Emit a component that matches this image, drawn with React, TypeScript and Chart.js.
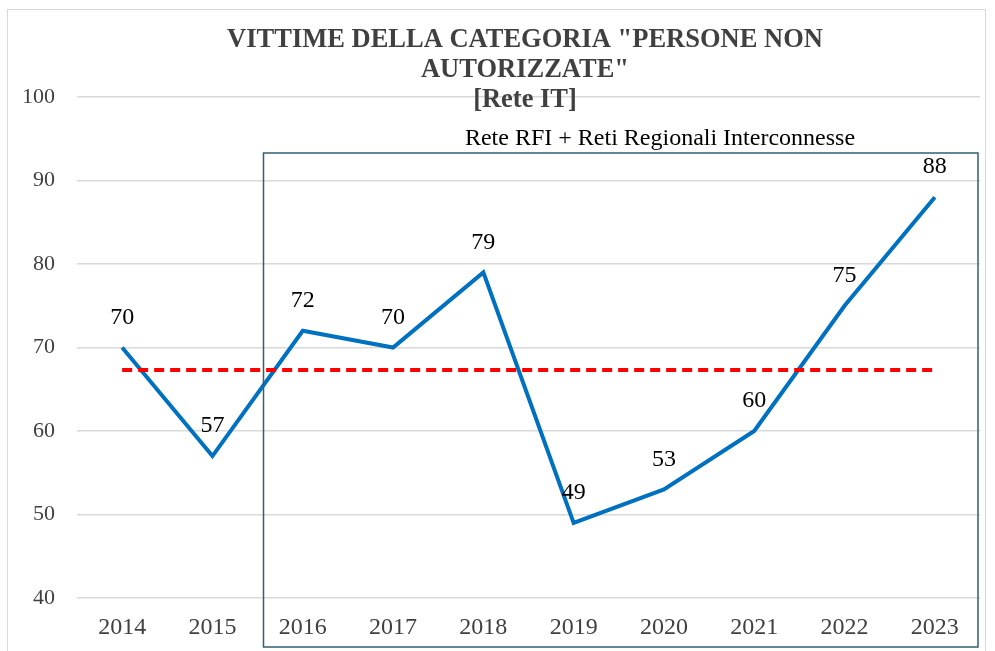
import React, { useEffect, useRef } from "react";
import { Chart, registerables } from "chart.js";

Chart.register(...registerables);

const years = ["2014", "2015", "2016", "2017", "2018", "2019", "2020", "2021", "2022", "2023"];
const victims = [70, 57, 72, 70, 79, 49, 53, 60, 75, 88];
const averageLine = [67.3, 67.3, 67.3, 67.3, 67.3, 67.3, 67.3, 67.3, 67.3, 67.3];
const titleLines = ['VITTIME DELLA CATEGORIA "PERSONE NON', 'AUTORIZZATE"', "[Rete IT]"];
const boxLabel = "Rete RFI + Reti Regionali Interconnesse";
const yMin = 40;
const yMax = 100;
const yStep = 10;

const SERIF = '"Liberation Serif", "Times New Roman", serif';

const decorPlugin = {
  id: "decor",
  beforeDraw(chart: any) {
    const ctx = chart.ctx;
    ctx.save();
    ctx.fillStyle = "#ffffff";
    ctx.fillRect(0, 0, chart.width, chart.height);
    ctx.strokeStyle = "#d9d9d9";
    ctx.lineWidth = 1;
    ctx.strokeRect(7.5, 9.5, 978, 700);
    ctx.restore();
  },
  afterDraw(chart: any) {
    const ctx = chart.ctx;
    const xs = chart.scales.x;
    const ys = chart.scales.y;
    ctx.save();
    // region box
    const left = 263.5;
    ctx.strokeStyle = "#31606f";
    ctx.lineWidth = 1.5;
    ctx.strokeRect(left, 153, 978 - left, 494);
    ctx.fillStyle = "#000000";
    ctx.font = `24px ${SERIF}`;
    ctx.textAlign = "center";
    ctx.textBaseline = "middle";
    ctx.fillText(boxLabel, 660, 139);
    // title
    ctx.fillStyle = "#404040";
    ctx.font = `bold 26.5px ${SERIF}`;
    const cx = 525;
    ctx.fillText(titleLines[0], cx, 40);
    ctx.fillText(titleLines[1], cx, 70);
    ctx.fillText(titleLines[2], cx, 100);
    // data labels
    ctx.fillStyle = "#000000";
    ctx.font = `24px ${SERIF}`;
    victims.forEach((v, i) => {
      const px = xs.getPixelForValue(i);
      const py = ys.getPixelForValue(v);
      ctx.fillText(String(v), px, py - 30);
    });
    ctx.restore();
  },
};

export default function App() {
  const ref = useRef<HTMLCanvasElement | null>(null);
  useEffect(() => {
    if (!ref.current) return;
    const chart = new Chart(ref.current, {
      type: "line",
      data: {
        labels: years,
        datasets: [
          {
            label: "Media",
            data: averageLine,
            borderColor: "#ff0000",
            borderWidth: 4,
            borderDash: [10, 6],
            pointRadius: 0,
            fill: false,
          },
          {
            label: "Vittime",
            data: victims,
            borderColor: "#0070c0",
            borderWidth: 4,
            pointRadius: 0,
            tension: 0,
            fill: false,
          },
        ],
      },
      options: {
        animation: false,
        responsive: false,
        maintainAspectRatio: false,
        layout: { padding: { left: 0, right: 15, top: 97, bottom: 0 } },
        plugins: {
          legend: { display: false },
          title: { display: false },
          tooltip: { enabled: false },
        },
        scales: {
          x: {
            offset: true,
            grid: { display: false, drawTicks: false },
            border: { display: false },
            ticks: {
              color: "#404040",
              font: { family: SERIF, size: 24 },
              padding: 15,
              maxRotation: 0,
            },
            afterFit(scale: any) {
              scale.height = 53;
            },
          },
          y: {
            min: yMin,
            max: yMax,
            grid: { color: "#d9d9d9", lineWidth: 1.5, drawTicks: false },
            border: { display: false },
            ticks: {
              stepSize: yStep,
              color: "#404040",
              font: { family: SERIF, size: 22 },
              padding: 22,
            },
            afterFit(scale: any) {
              scale.width = 77;
            },
          },
        },
      },
      plugins: [decorPlugin],
    });
    return () => chart.destroy();
  }, []);
  return (
    <div style={{ position: "fixed", left: 0, top: 0, width: 995, height: 651 }}>
      <canvas ref={ref} width={995} height={651} style={{ display: "block" }} />
    </div>
  );
}
